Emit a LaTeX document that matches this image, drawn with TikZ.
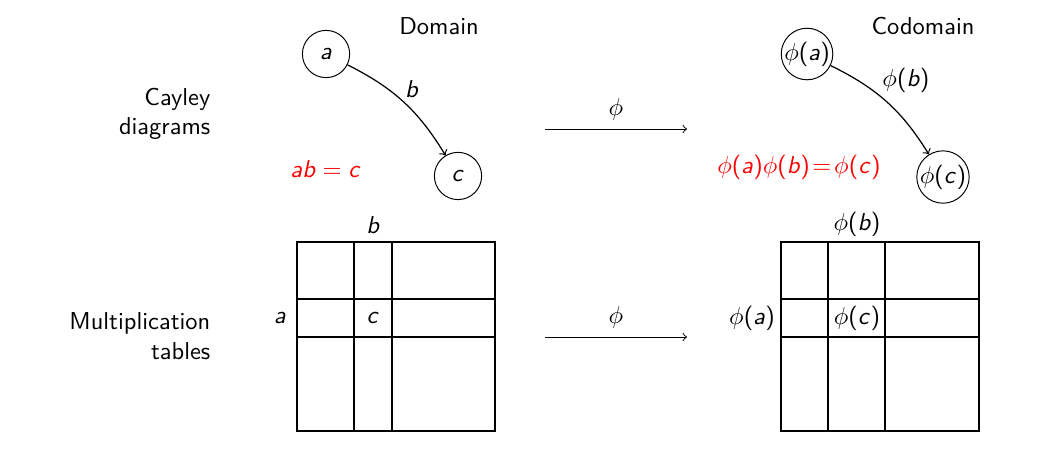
\documentclass[tikz,border=0pt]{standalone}
\usepackage[usenames,dvipsnames]{xcolor}
\usepackage{tikz}
\usetikzlibrary{arrows}

% sans serif letters in math, as on the slides
\DeclareSymbolFont{operators}{OT1}{cmss}{m}{n}
\DeclareSymbolFont{sfletters}{OT1}{cmss}{m}{sl}
\DeclareMathSymbol{a}{\mathalpha}{sfletters}{`a}
\DeclareMathSymbol{b}{\mathalpha}{sfletters}{`b}
\DeclareMathSymbol{c}{\mathalpha}{sfletters}{`c}

\tikzset{elt/.style={draw,circle,inner sep=0pt,minimum size=0.68cm}}

\begin{document}
\sffamily
\begin{tikzpicture}
   \useasboundingbox (0,0) rectangle (15.007,-6.604);
   % headings
   \draw (6.317,-0.374) node (domain) {Domain};
   \draw (13.281,-0.374) node (codomain) {Codomain};
   \draw (3.15,-1.64) node[anchor=east,align=right] (cayley) {Cayley\\diagrams};
   \draw (3.15,-4.835) node[anchor=east,align=right] (mult) {Multiplication\\tables};

   % Cayley diagrams
   \draw (4.691,-0.777) node[elt] (a) {$a$};
   \draw (6.590,-2.532) node[elt] (c) {$c$};
   \draw (11.612,-0.777) node[elt] (pa) {$\phi(a)$};
   \draw (13.568,-2.547) node[elt] (pc) {$\phi(c)$};
   \draw (4.691,-2.432) node[color=red] (abc) {$ab=c$};
   \draw (11.496,-2.403) node[color=red] (pabc) {$\phi(a)\phi(b)\!=\!\phi(c)$};

   \path[->,line width=0.5pt] (a) edge[bend left=16] node[pos=0.48,anchor=south west,inner sep=1pt] {$b$} (c);
   \path[->,line width=0.5pt] (pa) edge[bend left=16] node[pos=0.42,anchor=south west,inner sep=1pt] {$\phi(b)$} (pc);

   % maps
   \coordinate (m1) at (7.842,-1.856);
   \coordinate (m2) at (9.885,-1.856);
   \coordinate (m3) at (7.842,-4.849);
   \coordinate (m4) at (9.885,-4.849);
   \path[->] (m1) edge node[above] {$\phi$} (m2);
   \path[->] (m3) edge node[above] {$\phi$} (m4);

   % multiplication tables
   \begin{scope}[line width=0.45pt]
   \draw (4.273,-3.482) rectangle (7.122,-6.201);
   \draw (5.094,-3.482) -- (5.094,-6.201);
   \draw (5.640,-3.482) -- (5.640,-6.201);
   \draw (4.273,-4.302) -- (7.122,-4.302);
   \draw (4.273,-4.849) -- (7.122,-4.849);

   \draw (11.237,-3.482) rectangle (14.086,-6.201);
   \draw (11.914,-3.482) -- (11.914,-6.201);
   \draw (12.734,-3.482) -- (12.734,-6.201);
   \draw (11.237,-4.302) -- (14.086,-4.302);
   \draw (11.237,-4.849) -- (14.086,-4.849);
   \end{scope}
   \draw (5.367,-3.237) node (tb) {$b$};
   \draw (4.029,-4.576) node (ta) {$a$};
   \draw (5.367,-4.576) node (tc) {$c$};
   \draw (12.331,-3.223) node (tpb) {$\phi(b)$};
   \draw (10.820,-4.576) node (tpa) {$\phi(a)$};
   \draw (12.331,-4.576) node (tpc) {$\phi(c)$};
\end{tikzpicture}
\end{document}
